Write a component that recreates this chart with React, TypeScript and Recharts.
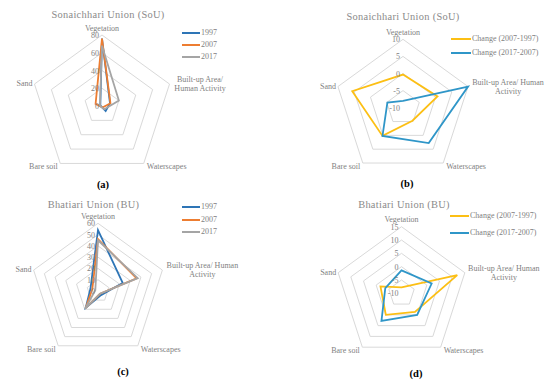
import React from 'react';
import { RadarChart, Radar, PolarGrid, PolarAngleAxis, PolarRadiusAxis, Legend } from 'recharts';

// ---------- DATA ----------
const categories = ['Vegetation', 'Built-up Area/ Human Activity', 'Waterscapes', 'Bare soil', 'Sand'];

// Sonaichhari Union (SoU), land cover (%)
const sou1997 = [76, 9.5, 7, 1, 2];
const sou2007 = [76, 10, 1.7, 1.2, 7.6];
const sou2017 = [68, 20, 4.5, 1.4, 2.4];
// Sonaichhari Union (SoU), change (%)
const souChange0797 = [-0.3, 0.6, -5.3, 0.2, 5.6];
const souChange1707 = [-8, 10, 2.8, 0.2, -5.2];

// Bhatiari Union (BU), land cover (%)
const bu1997 = [54, 23, 4.5, 18.5, 7];
const bu2007 = [46, 36, 3, 18.5, 5.3];
const bu2017 = [45, 37, 3, 19.5, 2.5];
// Bhatiari Union (BU), change (%)
const buChange0797 = [-7.8, 12, -1.4, 0, -1.7];
const buChange1707 = [-1.4, 1.9, 0, 2.8, -3.6];

const yearNames = ['1997', '2007', '2017'];
const changeNames = ['Change (2007-1997)', 'Change (2017-2007)'];

// ---------- STYLE ----------
const FONT = '"Liberation Serif", "Times New Roman", serif';
const LABEL = '#7f7f7f';
const BLUE = '#2e75b6';
const ORANGE = '#ed7d31';
const GRAY = '#a5a5a5';
const GOLD = '#fcbf14';
const TEAL = '#2f96c8';

type Series = { key: string; name: string; color: string; values: number[] };

interface PanelProps {
  cx: number; cy: number; r: number;
  domain: [number, number]; tickCount: number;
  series: Series[];
  title: string; titleX: number; titleY: number;
  legendX: number; legendY: number; legendGap: number; legendLine: number;
  caption: string; capX: number; capY: number;
  builtLines: string[]; builtDx: number;
}

const W = 550;
const H = 380;

function Panel(p: PanelProps) {
  const data = categories.map((c, i) => {
    const row: Record<string, any> = { category: c };
    p.series.forEach((s) => { row[s.key] = s.values[i]; });
    return row;
  });

  const angleTick = (props: any) => {
    const { payload } = props;
    const ang = (payload.coordinate * Math.PI) / 180;
    const vx = p.cx + p.r * Math.cos(ang);
    const vy = p.cy - p.r * Math.sin(ang);
    const common = { fontSize: 8, fill: LABEL, fontFamily: FONT };
    const label: string = payload.value;
    if (label === 'Vegetation') {
      return <text x={vx} y={vy - 4.5} textAnchor="middle" {...common}>{label}</text>;
    }
    if (label === 'Sand') {
      return <text x={vx - 2} y={vy + 2} textAnchor="end" {...common}>{label}</text>;
    }
    if (label === 'Bare soil') {
      return <text x={vx - 2.5} y={vy + 6} textAnchor="end" {...common}>{label}</text>;
    }
    if (label === 'Waterscapes') {
      return <text x={vx + 3} y={vy + 6} textAnchor="start" {...common}>{label}</text>;
    }
    return (
      <text x={vx + p.builtDx} y={vy - 2} textAnchor="middle" {...common}>
        {p.builtLines.map((l, i) => (
          <tspan key={i} x={vx + p.builtDx} dy={i === 0 ? 0 : 9.3}>{l}</tspan>
        ))}
      </text>
    );
  };

  const radiusTick = (props: any) => {
    const { x, y, payload } = props;
    return (
      <text x={x - 3} y={y + 3} textAnchor="end" fontSize={8} fill={LABEL} fontFamily={FONT}>
        {payload.value}
      </text>
    );
  };

  const legendContent = (props: any) => {
    const items = props.payload || [];
    return (
      <div style={{ position: 'relative' }}>
        {items.map((it: any, i: number) => (
          <div
            key={i}
            style={{
              position: 'absolute', left: 0, top: i * p.legendGap, height: 10,
              display: 'flex', alignItems: 'center', whiteSpace: 'nowrap',
            }}
          >
            <div style={{ width: p.legendLine, height: 2, background: it.color }} />
            <span style={{ fontSize: 8, color: LABEL, fontFamily: FONT, marginLeft: 1, lineHeight: '10px' }}>
              {it.value}
            </span>
          </div>
        ))}
      </div>
    );
  };

  return (
    <div style={{ position: 'absolute', left: 0, top: 0, width: W, height: H }}>
      <RadarChart
        width={W}
        height={H}
        data={data}
        cx={p.cx}
        cy={p.cy}
        outerRadius={p.r}
        startAngle={90}
        endAngle={-270}
        margin={{ top: 0, right: 0, bottom: 0, left: 0 }}
      >
        <PolarGrid gridType="polygon" radialLines={false} stroke="#d9d9d9" strokeWidth={1} />
        <PolarAngleAxis dataKey="category" tick={angleTick} tickLine={false} axisLine={false} />
        <PolarRadiusAxis
          angle={90}
          type="number"
          domain={p.domain}
          tickCount={p.tickCount}
          tick={radiusTick}
          axisLine={false}
          tickLine={false}
        />
        {p.series.map((s) => (
          <Radar
            key={s.key}
            name={s.name}
            dataKey={s.key}
            stroke={s.color}
            strokeWidth={1.8}
            fill="none"
            fillOpacity={0}
            dot={false}
            isAnimationActive={false}
          />
        ))}
        <Legend
          layout="vertical"
          align="center"
          verticalAlign="middle"
          content={legendContent}
          wrapperStyle={{ left: p.legendX, top: p.legendY - 5, width: 120, height: 40 }}
        />
      </RadarChart>
      <div
        style={{
          position: 'absolute', left: p.titleX, top: p.titleY, transform: 'translate(-50%, -50%)',
          fontFamily: FONT, fontSize: 10.4, color: '#8a8a8a', whiteSpace: 'nowrap', letterSpacing: 0.3,
        }}
      >
        {p.title}
      </div>
      <div
        style={{
          position: 'absolute', left: p.capX, top: p.capY, transform: 'translate(-50%, -50%)',
          fontFamily: FONT, fontSize: 10.5, fontWeight: 'bold', color: '#000', whiteSpace: 'nowrap',
        }}
      >
        {p.caption}
      </div>
    </div>
  );
}

const yearSeries = (vals: number[][]): Series[] =>
  vals.map((v, i) => ({ key: 'y' + yearNames[i], name: yearNames[i], color: [BLUE, ORANGE, GRAY][i], values: v }));
const changeSeries = (vals: number[][]): Series[] =>
  vals.map((v, i) => ({ key: 'c' + i, name: changeNames[i], color: [GOLD, TEAL][i], values: v }));

export default function App() {
  return (
    <div style={{ position: 'absolute', left: 0, top: 0, width: W, height: H, background: '#fff', overflow: 'hidden' }}>
      <Panel
        cx={102} cy={106} r={71} domain={[0, 80]} tickCount={5}
        series={yearSeries([sou1997, sou2007, sou2017])}
        title="Sonaichhari Union (SoU)" titleX={108} titleY={14}
        legendX={182} legendY={32.7} legendGap={12.3} legendLine={18}
        caption="(a)" capX={103} capY={184}
        builtLines={['Built-up Area/', 'Human Activity']} builtDx={30.5}
      />
      <Panel
        cx={403} cy={107.7} r={68.4} domain={[-10, 10]} tickCount={5}
        series={changeSeries([souChange0797, souChange1707])}
        title="Sonaichhari Union (SoU)" titleX={403} titleY={15.7}
        legendX={451} legendY={39.3} legendGap={14} legendLine={20}
        caption="(b)" capX={407} capY={183}
        builtLines={['Built-up Area/ Human', 'Activity']} builtDx={40}
      />
      <Panel
        cx={98} cy={291} r={67.7} domain={[0, 60]} tickCount={7}
        series={yearSeries([bu1997, bu2007, bu2017])}
        title="Bhatiari Union (BU)" titleX={93.5} titleY={204}
        legendX={182} legendY={207.3} legendGap={12.5} legendLine={18}
        caption="(c)" capX={123} capY={371}
        builtLines={['Built-up Area/ Human', 'Activity']} builtDx={40}
      />
      <Panel
        cx={401.5} cy={293.3} r={66.6} domain={[-10, 15]} tickCount={6}
        series={changeSeries([buChange0797, buChange1707])}
        title="Bhatiari Union (BU)" titleX={404} titleY={204}
        legendX={450} legendY={216} legendGap={17.3} legendLine={19}
        caption="(d)" capX={416} capY={372.5}
        builtLines={['Built-up Area/ Human', 'Activity']} builtDx={39}
      />
    </div>
  );
}
